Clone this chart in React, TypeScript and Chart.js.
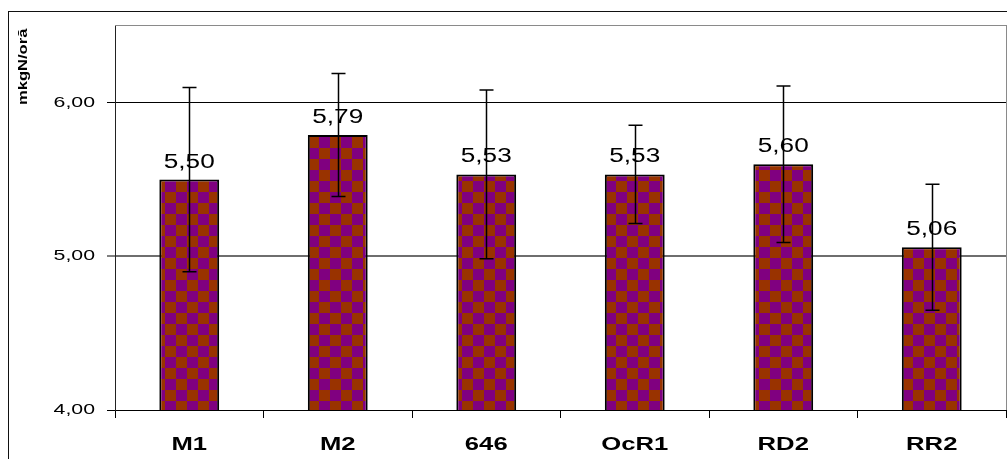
import React, { useEffect, useRef } from 'react';
import { Chart, registerables } from 'chart.js';

Chart.register(...registerables);

const categories = ['M1', 'M2', '646', 'OcR1', 'RD2', 'RR2'];
const values = [5.5, 5.79, 5.534, 5.534, 5.6, 5.06];
const errors = [0.6, 0.4, 0.55, 0.32, 0.51, 0.41];
const yMin = 4;
const yMax = 6.5;
const yStep = 1;
const axisTitle = 'mkgN/oră';

const BROWN = '#993300';
const PURPLE = '#800080';
const FONT = '"Liberation Sans", Arial, sans-serif';

const fmt = (v: number) => v.toFixed(2).replace('.', ',');

function stretchText(
  ctx: CanvasRenderingContext2D,
  text: string,
  x: number,
  y: number,
  font: string,
  sx: number,
  align: CanvasTextAlign
) {
  ctx.save();
  ctx.translate(x, y);
  ctx.scale(sx, 1);
  ctx.font = font;
  ctx.textAlign = align;
  ctx.textBaseline = 'alphabetic';
  ctx.fillStyle = '#000';
  ctx.fillText(text, 0, 0);
  ctx.restore();
}

const decorPlugin = {
  id: 'decor',
  beforeDraw(chart: any) {
    const ctx: CanvasRenderingContext2D = chart.ctx;
    const a = chart.chartArea;
    ctx.save();
    ctx.fillStyle = '#fff';
    ctx.fillRect(0, 0, chart.width, chart.height);
    ctx.strokeStyle = '#111';
    ctx.lineWidth = 1;
    ctx.strokeRect(8.5, 11.5, chart.width + 20, chart.height + 20);
    ctx.strokeStyle = '#8a8a8a';
    ctx.strokeRect(a.left + 0.5, a.top - 0.5, a.right - a.left, a.bottom - a.top + 1);
    ctx.restore();
  },
  afterDatasetsDraw(chart: any) {
    const ctx: CanvasRenderingContext2D = chart.ctx;
    const xs = chart.scales.x;
    const ys = chart.scales.y;
    ctx.save();
    ctx.strokeStyle = '#000';
    ctx.lineWidth = 1.5;
    values.forEach((v, i) => {
      const x = Math.round(xs.getPixelForValue(i)) + 0.5;
      const yt = ys.getPixelForValue(v + errors[i]);
      const yb = ys.getPixelForValue(v - errors[i]);
      ctx.beginPath();
      ctx.moveTo(x, yt);
      ctx.lineTo(x, yb);
      ctx.moveTo(x - 7, yt);
      ctx.lineTo(x + 7, yt);
      ctx.moveTo(x - 7, yb);
      ctx.lineTo(x + 7, yb);
      ctx.stroke();
    });
    ctx.restore();
    values.forEach((v, i) => {
      const x = xs.getPixelForValue(i);
      const y = ys.getPixelForValue(v) - 12;
      stretchText(ctx, fmt(v), x, y, `20px ${FONT}`, 1.31, 'center');
    });
  },
  afterDraw(chart: any) {
    const ctx: CanvasRenderingContext2D = chart.ctx;
    const xs = chart.scales.x;
    const ys = chart.scales.y;
    ys.ticks.forEach((t: any) => {
      const y = ys.getPixelForValue(t.value);
      stretchText(ctx, fmt(t.value), 95, y + 4, `15px ${FONT}`, 1.42, 'right');
    });
    categories.forEach((c, i) => {
      const x = xs.getPixelForValue(i);
      stretchText(ctx, c, x, 450, `bold 19px ${FONT}`, 1.35, 'center');
    });
    ctx.save();
    ctx.translate(27, 105);
    ctx.rotate(-Math.PI / 2);
    ctx.scale(1.38, 1);
    ctx.font = `bold 12px ${FONT}`;
    ctx.textAlign = 'left';
    ctx.textBaseline = 'alphabetic';
    ctx.fillStyle = '#000';
    ctx.fillText(axisTitle, 0, 0);
    ctx.restore();
  },
};

function makePattern(ctx: CanvasRenderingContext2D): CanvasPattern | string {
  const pc = document.createElement('canvas');
  pc.width = 22;
  pc.height = 22;
  const p = pc.getContext('2d');
  if (!p) return BROWN;
  p.fillStyle = BROWN;
  p.fillRect(0, 0, 22, 22);
  p.fillStyle = PURPLE;
  p.fillRect(11, 0, 11, 11);
  p.fillRect(0, 11, 11, 11);
  const pat = ctx.createPattern(pc, 'repeat');
  if (!pat) return BROWN;
  pat.setTransform(new DOMMatrix([1, 0, 0, 1, 0, 5]));
  return pat;
}

export default function App() {
  const ref = useRef<HTMLCanvasElement | null>(null);

  useEffect(() => {
    const canvas = ref.current;
    if (!canvas) return;
    const ctx = canvas.getContext('2d');
    if (!ctx) return;
    const pattern = makePattern(ctx);

    const chart = new Chart(canvas, {
      type: 'bar',
      data: {
        labels: categories,
        datasets: [
          {
            data: values,
            backgroundColor: pattern as any,
            borderColor: '#000',
            borderWidth: 2,
            barPercentage: 0.403,
            categoryPercentage: 1,
          },
        ],
      },
      options: {
        responsive: false,
        animation: false,
        devicePixelRatio: 1,
        layout: { padding: { top: 26, right: 1, left: 0, bottom: 0 } },
        plugins: {
          legend: { display: false },
          tooltip: { enabled: false },
          title: { display: false },
        },
        scales: {
          x: {
            type: 'category',
            offset: true,
            grid: {
              offset: true,
              drawOnChartArea: false,
              drawTicks: true,
              tickLength: 8,
              color: '#000',
            },
            border: { display: true, color: '#000', width: 1 },
            ticks: { display: false },
            afterFit: (s: any) => {
              s.height = 49;
            },
          },
          y: {
            type: 'linear',
            min: yMin,
            max: yMax,
            grid: {
              drawTicks: true,
              tickLength: 8,
              color: (c: any) => (c.tick && c.tick.value === 5 ? '#6e6e6e' : '#000'),
              lineWidth: (c: any) => (c.tick && c.tick.value === 5 ? 2 : 1),
              tickColor: '#000',
              tickWidth: 1,
            },
            border: { display: true, color: '#222', width: 1 },
            ticks: { display: false, stepSize: yStep, includeBounds: false },
            afterFit: (s: any) => {
              s.width = 115;
            },
          },
        },
      },
      plugins: [decorPlugin],
    });

    return () => chart.destroy();
  }, []);

  return (
    <div
      style={{
        position: 'fixed',
        left: 0,
        top: 0,
        width: 1007,
        height: 459,
        overflow: 'hidden',
        background: '#fff',
      }}
    >
      <canvas ref={ref} width={1007} height={459} style={{ display: 'block' }} />
    </div>
  );
}
